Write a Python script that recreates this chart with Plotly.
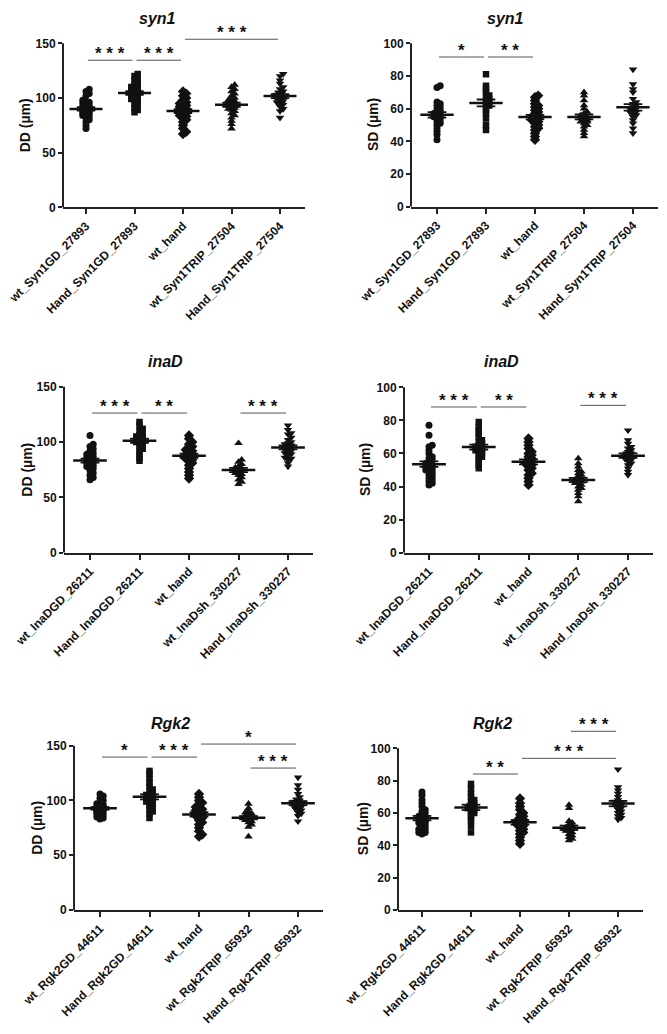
import plotly.graph_objects as go

W, H = 667, 1034          # browser window / figure size
FONT = "Liberation Sans, Arial, sans-serif"
INK = "#111111"

# ---------------- categories ----------------
LABELS_SYN1 = ["wt_Syn1GD_27893", "Hand_Syn1GD_27893", "wt_hand", "wt_Syn1TRIP_27504", "Hand_Syn1TRIP_27504"]
LABELS_INAD = ["wt_InaDGD_26211", "Hand_InaDGD_26211", "wt_hand", "wt_InaDsh_330227", "Hand_InaDsh_330227"]
LABELS_RGK2 = ["wt_Rgk2GD_44611", "Hand_Rgk2GD_44611", "wt_hand", "wt_Rgk2TRIP_65932", "Hand_Rgk2TRIP_65932"]
SYMBOLS = ["circle", "square", "diamond", "triangle-up", "triangle-down"]
SIZES = [7, 6.5, 8, 7.5, 7.5]

# ---------------- data: syn1 DD ----------------
syn1_dd_g0 = [72, 75, 78, 80, 82, 83, 84, 85, 86, 86, 87, 88, 88, 89, 89, 90, 90, 91, 91, 92, 93, 94, 95, 96, 97, 98, 102, 104, 106, 108]
syn1_dd_g1 = [87, 89, 91, 93, 95, 97, 98, 99, 100, 101, 102, 103, 104, 104, 105, 105, 106, 107, 108, 109, 110, 111, 112, 114, 116, 118, 120, 122]
syn1_dd_g2 = [67, 69, 72, 75, 78, 80, 82, 83, 84, 85, 86, 87, 87, 88, 88, 89, 89, 90, 90, 91, 92, 93, 94, 95, 96, 98, 100, 102, 104, 106]
syn1_dd_g3 = [72, 76, 79, 82, 84, 86, 88, 89, 90, 91, 92, 93, 93, 94, 94, 95, 95, 96, 97, 98, 99, 100, 102, 104, 106, 108, 110, 112]
syn1_dd_g4 = [82, 88, 90, 92, 94, 95, 96, 97, 98, 99, 100, 100, 101, 101, 102, 102, 103, 104, 105, 106, 108, 110, 113, 116, 120, 122]
# ---------------- data: syn1 SD ----------------
syn1_sd_g0 = [41, 44, 46, 48, 50, 51, 52, 53, 54, 55, 55, 56, 56, 57, 57, 58, 59, 60, 61, 62, 63, 64, 73, 74]
syn1_sd_g1 = [47, 50, 54, 57, 59, 61, 62, 63, 64, 65, 66, 67, 68, 70, 72, 74, 81]
syn1_sd_g2 = [41, 43, 45, 47, 48, 49, 50, 51, 52, 53, 53, 54, 54, 55, 55, 56, 57, 58, 59, 60, 61, 62, 63, 65, 67, 68]
syn1_sd_g3 = [43, 45, 47, 49, 50, 51, 52, 52, 53, 53, 54, 54, 55, 55, 56, 57, 58, 60, 62, 65, 68, 70]
syn1_sd_g4 = [45, 48, 51, 53, 55, 56, 57, 58, 58, 59, 60, 60, 61, 62, 63, 64, 66, 70, 72, 75, 84]
# ---------------- data: inaD DD ----------------
inad_dd_g0 = [66, 68, 70, 72, 74, 76, 77, 78, 79, 80, 81, 82, 83, 83, 84, 84, 85, 86, 87, 88, 89, 90, 92, 94, 96, 98, 106]
inad_dd_g1 = [83, 86, 89, 92, 94, 96, 98, 99, 100, 101, 101, 102, 102, 103, 104, 105, 106, 108, 110, 112, 115, 118]
inad_dd_g2 = [67, 70, 73, 76, 79, 81, 83, 84, 85, 86, 87, 88, 88, 89, 90, 90, 91, 92, 93, 94, 96, 98, 100, 103, 106]
inad_dd_g3 = [62, 64, 66, 68, 70, 71, 72, 73, 74, 74, 75, 76, 77, 78, 80, 82, 84, 99]
inad_dd_g4 = [78, 81, 84, 85, 86, 88, 89, 90, 91, 92, 93, 94, 94, 95, 95, 96, 97, 98, 99, 100, 102, 104, 107, 108, 111, 115]
# ---------------- data: inaD SD ----------------
inad_sd_g0 = [41, 42, 43, 44, 45, 46, 47, 48, 49, 50, 50, 51, 52, 52, 53, 53, 54, 55, 56, 57, 58, 60, 62, 64, 65, 71, 77]
inad_sd_g1 = [51, 53, 55, 57, 58, 59, 60, 61, 62, 62, 63, 63, 64, 64, 65, 66, 67, 68, 70, 72, 74, 76, 79]
inad_sd_g2 = [41, 43, 45, 47, 48, 50, 51, 52, 53, 54, 54, 55, 55, 56, 57, 58, 59, 60, 61, 63, 65, 67, 69]
inad_sd_g3 = [31, 34, 36, 38, 39, 40, 41, 42, 42, 43, 43, 44, 44, 45, 45, 46, 47, 48, 49, 50, 52, 54, 57]
inad_sd_g4 = [47, 49, 51, 53, 54, 55, 56, 57, 57, 58, 58, 59, 59, 60, 60, 61, 62, 63, 64, 66, 68, 74]
# ---------------- data: Rgk2 DD ----------------
rgk2_dd_g0 = [83, 84, 85, 86, 87, 88, 89, 90, 90, 91, 91, 92, 92, 93, 93, 94, 94, 95, 96, 97, 98, 100, 102, 104, 106]
rgk2_dd_g1 = [84, 88, 90, 92, 94, 95, 97, 98, 99, 100, 101, 102, 103, 104, 105, 106, 108, 110, 113, 116, 120, 124, 127]
rgk2_dd_g2 = [67, 69, 72, 75, 78, 80, 82, 84, 85, 86, 87, 88, 88, 89, 89, 90, 91, 92, 93, 94, 96, 98, 100, 103, 106]
rgk2_dd_g3 = [67, 76, 78, 80, 81, 82, 83, 84, 84, 85, 85, 86, 86, 87, 88, 89, 90, 93, 97]
rgk2_dd_g4 = [81, 86, 88, 89, 91, 92, 93, 94, 95, 95, 96, 97, 97, 98, 98, 99, 100, 101, 103, 106, 110, 114, 121]
# ---------------- data: Rgk2 SD ----------------
rgk2_sd_g0 = [47, 48, 48, 49, 50, 50, 51, 52, 53, 54, 54, 55, 55, 56, 56, 57, 57, 58, 59, 60, 61, 62, 64, 66, 68, 71, 73]
rgk2_sd_g1 = [48, 52, 55, 57, 59, 60, 61, 62, 63, 63, 64, 64, 65, 66, 67, 68, 70, 72, 75, 78]
rgk2_sd_g2 = [41, 43, 45, 47, 48, 49, 50, 51, 52, 53, 53, 54, 54, 55, 55, 56, 57, 58, 59, 60, 62, 64, 66, 69]
rgk2_sd_g3 = [43, 44, 45, 46, 47, 48, 49, 49, 50, 50, 51, 51, 52, 53, 54, 55, 63, 65]
rgk2_sd_g4 = [56, 57, 58, 59, 60, 61, 62, 63, 64, 65, 65, 66, 66, 67, 68, 70, 72, 74, 76, 87]

# significance comparisons: (group i, group j, bar height, label)
SIG_SYN1_DD = [(0, 1, 134.5, "***"), (1, 2, 134.5, "***"), (2, 4, 153.7, "***")]
SIG_SYN1_SD = [(0, 1, 91.6, "*"), (1, 2, 91.6, "**")]
SIG_INAD_DD = [(0, 1, 126.2, "***"), (1, 2, 126.2, "**"), (3, 4, 126.2, "***")]
SIG_INAD_SD = [(0, 1, 88.1, "***"), (1, 2, 88.1, "**"), (3, 4, 89.1, "***")]
SIG_RGK2_DD = [(0, 1, 139.6, "*"), (1, 2, 139.6, "***"), (2, 4, 151.5, "*"), (3, 4, 129.6, "***")]
SIG_RGK2_SD = [(1, 2, 84.1, "**"), (2, 4, 93.8, "***"), (3, 4, 110.5, "***")]

# ---------------- panels (data + pixel layout) ----------------
panels = [
    dict(title="syn1", ytitle="DD (µm)", labels=LABELS_SYN1, ytop_val=150, ystep=50,
         groups=[syn1_dd_g0, syn1_dd_g1, syn1_dd_g2, syn1_dd_g3, syn1_dd_g4], sig=SIG_SYN1_DD,
         ax=(63, 305), tk=(86, 280), y0=207.3, ytop=43.3, tpos=(157, 18), ytx=25),
    dict(title="syn1", ytitle="SD (µm)", labels=LABELS_SYN1, ytop_val=100, ystep=20,
         groups=[syn1_sd_g0, syn1_sd_g1, syn1_sd_g2, syn1_sd_g3, syn1_sd_g4], sig=SIG_SYN1_SD,
         ax=(411, 658), tk=(437, 633), y0=206.7, ytop=43.3, tpos=(505, 18), ytx=373),
    dict(title="inaD", ytitle="DD (µm)", labels=LABELS_INAD, ytop_val=150, ystep=50,
         groups=[inad_dd_g0, inad_dd_g1, inad_dd_g2, inad_dd_g3, inad_dd_g4], sig=SIG_INAD_DD,
         ax=(64, 313), tk=(90, 288), y0=552.7, ytop=386.7, tpos=(165, 362), ytx=27),
    dict(title="inaD", ytitle="SD (µm)", labels=LABELS_INAD, ytop_val=100, ystep=20,
         groups=[inad_sd_g0, inad_sd_g1, inad_sd_g2, inad_sd_g3, inad_sd_g4], sig=SIG_INAD_SD,
         ax=(404, 653), tk=(429, 628), y0=552.7, ytop=387.3, tpos=(501, 362), ytx=365),
    dict(title="Rgk2", ytitle="DD (µm)", labels=LABELS_RGK2, ytop_val=150, ystep=50,
         groups=[rgk2_dd_g0, rgk2_dd_g1, rgk2_dd_g2, rgk2_dd_g3, rgk2_dd_g4], sig=SIG_RGK2_DD,
         ax=(74, 323), tk=(100, 298), y0=910, ytop=745.7, tpos=(170, 723), ytx=37),
    dict(title="Rgk2", ytitle="SD (µm)", labels=LABELS_RGK2, ytop_val=100, ystep=20,
         groups=[rgk2_sd_g0, rgk2_sd_g1, rgk2_sd_g2, rgk2_sd_g3, rgk2_sd_g4], sig=SIG_RGK2_SD,
         ax=(398, 643), tk=(422, 618), y0=910, ytop=748.3, tpos=(492, 723), ytx=363),
]


def px_x(X):
    return X / W


def px_y(Y):
    return 1 - Y / H


def swarm(values, ppu_y, ppu_x, step=1.6, mind=3.0):
    """Deterministic narrow beeswarm offsets (in category units)."""
    order = sorted(range(len(values)), key=lambda k: values[k])
    placed = []
    offs = [0.0] * len(values)
    cands = [0.0, step, -step, 2 * step, -2 * step]
    for k in order:
        yp = values[k] * ppu_y
        best, bestd = 0.0, -1.0
        for c in cands:
            d = min([((c - px) ** 2 + (yp - py) ** 2) ** 0.5 for px, py in placed] or [99.0])
            if d >= mind:
                best = c
                break
            if d > bestd:
                bestd, best = d, c
        placed.append((best, yp))
        offs[k] = best / ppu_x
    return offs


fig = go.Figure()
layout = dict(template="none", width=W, height=H, margin=dict(l=0, r=0, t=0, b=0, pad=0),
              autosize=False, paper_bgcolor="white", plot_bgcolor="white", showlegend=False,
              font=dict(family=FONT, color=INK))
shapes, annotations = [], []

for p_i, p in enumerate(panels):
    n = "" if p_i == 0 else str(p_i + 1)
    xa, ya = "x" + n, "y" + n
    spacing = (p["tk"][1] - p["tk"][0]) / 4.0
    ppu_y = (p["y0"] - p["ytop"]) / p["ytop_val"]
    xlo = -(p["tk"][0] - p["ax"][0]) / spacing
    xhi = 4 + (p["ax"][1] - p["tk"][1]) / spacing
    max_sig = max([s[2] for s in p["sig"]] + [p["ytop_val"]])
    top_px = min(p["ytop"], p["y0"] - max_sig * ppu_y) - 4
    yhi = (p["y0"] - top_px) / ppu_y

    for g, vals in enumerate(p["groups"]):
        offs = swarm(vals, ppu_y, spacing)
        fig.add_trace(go.Scatter(
            x=[g + o for o in offs], y=vals, mode="markers", xaxis=xa, yaxis=ya,
            marker=dict(symbol=SYMBOLS[g], size=SIZES[g], color=INK, line=dict(width=0)),
            hoverinfo="skip"))
        m = sum(vals) / len(vals)
        sd = (sum((v - m) ** 2 for v in vals) / (len(vals) - 1)) ** 0.5
        sem = sd / len(vals) ** 0.5
        fig.add_trace(go.Scatter(
            x=[g - 0.34, g + 0.34], y=[m, m], mode="lines", xaxis=xa, yaxis=ya,
            line=dict(color=INK, width=2.5), hoverinfo="skip"))
        fig.add_trace(go.Scatter(
            x=[g - 0.19, g + 0.19, None, g - 0.19, g + 0.19],
            y=[m + sem, m + sem, None, m - sem, m - sem], mode="lines", xaxis=xa, yaxis=ya,
            line=dict(color=INK, width=1.8), hoverinfo="skip"))

    for (i, j, h, lab) in p["sig"]:
        x0, x1 = i + 0.04, j - 0.04
        fig.add_trace(go.Scatter(x=[x0, x1], y=[h, h], mode="lines", xaxis=xa, yaxis=ya,
                                 line=dict(color="#555555", width=1), hoverinfo="skip"))
        annotations.append(dict(x=(x0 + x1) / 2, y=h, xref=xa, yref=ya, text=" ".join(lab),
                                showarrow=False, yanchor="bottom", yshift=-5,
                                font=dict(size=17, family=FONT, color=INK, weight="bold")))

    layout["xaxis" + n] = dict(
        domain=[px_x(p["ax"][0]), px_x(p["ax"][1])], anchor=ya, range=[xlo, xhi],
        automargin=False, fixedrange=True, ticklabeloverflow="allow",
        tickvals=list(range(5)), ticktext=p["labels"], tickangle=-45,
        tickfont=dict(size=12, family=FONT, color=INK, weight="bold"),
        showline=True, linewidth=2, linecolor="#222222", ticks="outside", ticklen=5,
        tickwidth=2, tickcolor="#222222", showgrid=False, zeroline=False)
    layout["yaxis" + n] = dict(
        domain=[px_y(p["y0"]), px_y(top_px)], anchor=xa, range=[0, yhi],
        automargin=False, fixedrange=True, ticklabeloverflow="allow",
        tickvals=list(range(0, p["ytop_val"] + 1, p["ystep"])),
        tickfont=dict(size=12, family=FONT, color=INK, weight="bold"),
        showline=False, ticks="outside", ticklen=4, tickwidth=2, tickcolor="#222222",
        showgrid=False, zeroline=False)
    shapes.append(dict(type="line", xref="paper", yref=ya, x0=px_x(p["ax"][0]), x1=px_x(p["ax"][0]),
                       y0=0, y1=p["ytop_val"], line=dict(color="#222222", width=2)))
    annotations.append(dict(x=px_x(p["tpos"][0]), y=px_y(p["tpos"][1]), xref="paper", yref="paper",
                            text=p["title"], showarrow=False, xanchor="center", yanchor="middle",
                            font=dict(size=16, family=FONT, color=INK, weight="bold", style="italic")))
    annotations.append(dict(x=px_x(p["ytx"]), y=px_y((p["y0"] + p["ytop"]) / 2), xref="paper",
                            yref="paper", text=p["ytitle"], textangle=-90, showarrow=False,
                            xanchor="center", yanchor="middle",
                            font=dict(size=14, family=FONT, color=INK, weight="bold")))

layout["shapes"] = shapes
layout["annotations"] = annotations
fig.update_layout(**layout)
fig.write_html("out.html", config={"displayModeBar": False},
               post_script="document.body.style.margin='0';document.body.style.overflow='hidden';")
